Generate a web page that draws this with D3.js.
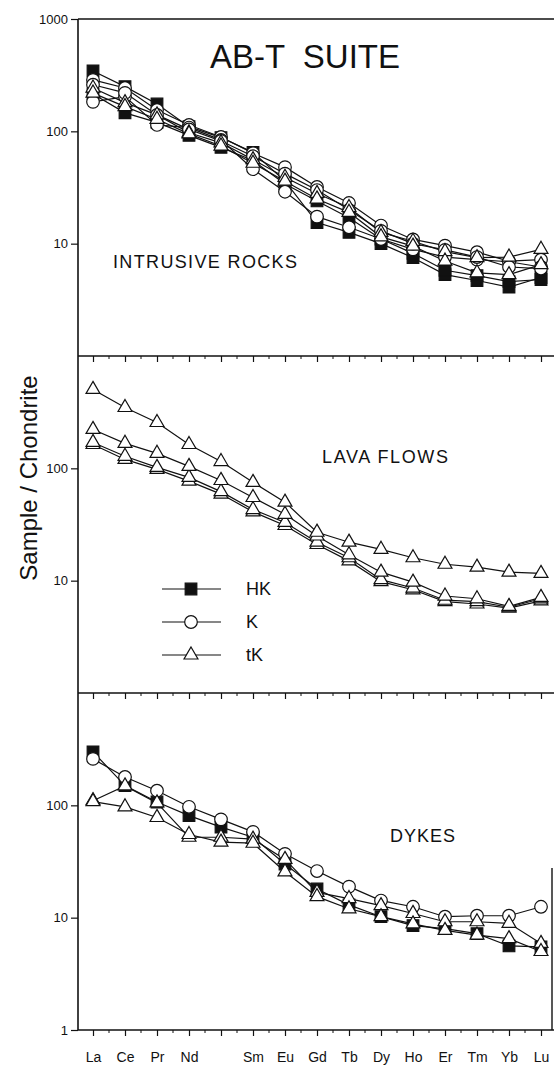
<!DOCTYPE html>
<html>
<head>
<meta charset="utf-8">
<script src="https://cdn.jsdelivr.net/npm/d3@7"></script>
<style>
  html, body { margin: 0; padding: 0; background: #fff; }
  svg { display: block; }
  text { font-family: "Liberation Sans", Arial, Helvetica, sans-serif; fill: #111; }
</style>
</head>
<body>
<svg id="chart" width="554" height="1068"></svg>
<script>
// Rare earth elements along the x axis (Pm is plotted but not labelled)
const elements = ["La","Ce","Pr","Nd","Pm","Sm","Eu","Gd","Tb","Dy","Ho","Er","Tm","Yb","Lu"];
const elementLabels = ["La","Ce","Pr","Nd","","Sm","Eu","Gd","Tb","Dy","Ho","Er","Tm","Yb","Lu"];

// Intrusive rocks (sample / chondrite)
const intrusiveHK1 = [345, 250, 175, 110, 88, 65, 36, 15.4, 12.6, 10, 7.5, 5.3, 4.7, 4.1, 5.0];
const intrusiveHK2 = [215, 146, 120, 92, 72, 55, 34, 24, 17, 11, 8.2, 5.8, 5.2, 4.6, 4.8];
const intrusiveK1  = [287, 243, 155, 114, 89, 64, 48, 32, 23, 14.5, 10.9, 9.6, 8.4, 7.0, 7.2];
const intrusiveK2  = [183, 204, 114, 108, 84, 46, 29, 17.4, 14, 11, 8.9, 7.6, 7.2, 6.9, 6.2];
const intrusiveK3  = [260, 220, 140, 104, 82, 60, 42, 30, 20, 13, 10, 8.8, 7.6, 6.2, 6.0];
const intrusiveTK1 = [243, 180, 140, 97, 79, 56, 39, 28, 21, 12.6, 10.5, 8.5, 7.5, 7.6, 8.9];
const intrusiveTK2 = [219, 166, 128, 95, 74, 52, 36, 25, 19, 11.5, 9.5, 7.0, 5.5, 5.3, 6.5];

// Lava flows
const lavaTK1 = [504, 348, 256, 163, 115, 75, 50, 27, 22, 19, 16, 14, 13.2, 11.9, 11.6];
const lavaTK2 = [222, 167, 136, 104, 78, 55, 39, 25, 17, 11.9, 9.7, 7.3, 6.9, 5.9, 7.1];
const lavaTK3 = [170, 128, 102, 83, 62, 43, 33, 22, 16, 10.2, 8.6, 6.7, 6.5, 5.8, 6.9];
const lavaTK4 = [163, 120, 98, 77, 59, 41, 31, 21, 15, 9.8, 8.3, 6.5, 6.2, 5.7, 6.6];

// Dykes
const dykeHK  = [299, 150, 107, 81, 64, 52, 30, 18, 13, 10.2, 8.5, 8.0, 7.2, 5.6, 5.5];
const dykeK   = [259, 179, 135, 97, 75, 58, 37, 26, 18.9, 14.2, 12.5, 10.2, 10.4, 10.4, 12.5];
const dykeTK1 = [110, 149, 105, 52, 52, 50, 33, 16.8, 14.8, 12.8, 10.9, 9.2, 9.2, 8.9, 5.9];
const dykeTK2 = [108, 97, 78, 55, 47, 46, 25.6, 15.4, 12, 10.2, 8.8, 7.7, 7.0, 6.5, 5.0];

// Y tick values shown in each panel
const intrusiveTicks = [10, 100, 1000];
const lavaTicks = [10, 100];
const dykeTicks = [1, 10, 100];

const seriesTypes = ["HK", "K", "tK"];

const panels = [
  { name: "INTRUSIVE ROCKS", ticks: intrusiveTicks, series: [
      { type: "HK", values: intrusiveHK1 }, { type: "HK", values: intrusiveHK2 },
      { type: "K", values: intrusiveK1 }, { type: "K", values: intrusiveK2 }, { type: "K", values: intrusiveK3 },
      { type: "tK", values: intrusiveTK1 }, { type: "tK", values: intrusiveTK2 } ] },
  { name: "LAVA FLOWS", ticks: lavaTicks, series: [
      { type: "tK", values: lavaTK4 }, { type: "tK", values: lavaTK3 },
      { type: "tK", values: lavaTK2 }, { type: "tK", values: lavaTK1 } ] },
  { name: "DYKES", ticks: dykeTicks, series: [
      { type: "HK", values: dykeHK }, { type: "K", values: dykeK },
      { type: "tK", values: dykeTK1 }, { type: "tK", values: dykeTK2 } ] }
];

const svg = d3.select("#chart");
const axisX = 78, rightEdge = 554, plotTop = 19, panelH = 337;
const x = d3.scalePoint().domain(elements).range([93, 541]);

const symbolPath = {
  HK: d3.symbol(d3.symbolSquare, 135)(),
  K:  d3.symbol(d3.symbolCircle, 125)(),
  tK: d3.symbol(d3.symbolTriangle, 84)()
};

function drawMarker(g, type, cx, cy) {
  g.append("path")
    .attr("d", symbolPath[type])
    .attr("transform", `translate(${cx},${cy})`)
    .attr("fill", type === "HK" ? "#111" : "#fff")
    .attr("stroke", "#111")
    .attr("stroke-width", 1.2);
}

panels.forEach((p, i) => {
  const top = plotTop + i * panelH, bottom = top + panelH;
  const y = d3.scaleLog().domain([1, 1000]).range([bottom, top]);
  const g = svg.append("g");

  // left axis
  const yAxis = g.append("g").attr("transform", `translate(${axisX},0)`)
    .call(d3.axisLeft(y).tickValues(p.ticks).tickFormat(d3.format("d")).tickSize(7).tickPadding(3));
  yAxis.select(".domain").remove();
  yAxis.selectAll("line").attr("stroke", "#111").attr("stroke-width", 1.2);
  yAxis.selectAll("text").style("font-size", "13px").attr("fill", "#111");
  g.append("line").attr("x1", axisX).attr("x2", axisX).attr("y1", top).attr("y2", bottom)
    .attr("stroke", "#111").attr("stroke-width", 1.6);

  // bottom axis of the panel with major and minor ticks
  const xAxis = g.append("g").attr("transform", `translate(0,${bottom})`)
    .call(d3.axisBottom(x).tickSize(6).tickPadding(16)
      .tickFormat((d, k) => i === panels.length - 1 ? elementLabels[k] : ""));
  xAxis.select(".domain").remove();
  xAxis.selectAll("line").attr("stroke", "#111").attr("stroke-width", 1.2);
  xAxis.selectAll("text").style("font-size", "14px").attr("fill", "#111");
  const step = x.step();
  g.selectAll(null).data(elements.slice(0, -1)).enter().append("line")
    .attr("x1", d => x(d) + step / 2).attr("x2", d => x(d) + step / 2)
    .attr("y1", bottom).attr("y2", bottom + 3)
    .attr("stroke", "#111").attr("stroke-width", 1);
  g.append("line").attr("x1", axisX).attr("x2", rightEdge).attr("y1", bottom).attr("y2", bottom)
    .attr("stroke", "#111").attr("stroke-width", 1.6);

  if (i === 0) {
    g.append("line").attr("x1", axisX).attr("x2", rightEdge).attr("y1", top).attr("y2", top)
      .attr("stroke", "#111").attr("stroke-width", 1.6);
  }
  if (i === panels.length - 1) {
    g.append("line").attr("x1", 552).attr("x2", 552).attr("y1", top + 175).attr("y2", bottom)
      .attr("stroke", "#111").attr("stroke-width", 1.4);
  }

  // series lines then markers
  const line = d3.line().x((d, k) => x(elements[k])).y(d => y(d));
  p.series.forEach(s => {
    g.append("path").datum(s.values).attr("d", line)
      .attr("fill", "none").attr("stroke", "#111").attr("stroke-width", 1.2);
  });
  p.series.forEach(s => {
    s.values.forEach((v, k) => drawMarker(g, s.type, x(elements[k]), y(v)));
  });
});

// Panel captions
svg.append("text").attr("x", 113).attr("y", 268).style("font-size", "18px")
  .attr("textLength", 184).attr("lengthAdjust", "spacing").text("INTRUSIVE ROCKS");
svg.append("text").attr("x", 322).attr("y", 463).style("font-size", "18px")
  .attr("textLength", 126).attr("lengthAdjust", "spacing").text("LAVA FLOWS");
svg.append("text").attr("x", 390).attr("y", 842).style("font-size", "18px")
  .attr("textLength", 65).attr("lengthAdjust", "spacing").text("DYKES");

// Title
svg.append("text").attr("x", 305).attr("y", 68).attr("text-anchor", "middle")
  .style("font-size", "33px").style("white-space", "pre").text("AB-T  SUITE");

// Y axis title
svg.append("text").attr("transform", "translate(37,478) rotate(-90)").attr("text-anchor", "middle")
  .style("font-size", "24px").text("Sample / Chondrite");

// Legend
const legend = svg.append("g");
seriesTypes.forEach((t, k) => {
  const ly = 589 + k * 33;
  legend.append("line").attr("x1", 162).attr("x2", 221).attr("y1", ly).attr("y2", ly)
    .attr("stroke", "#111").attr("stroke-width", 1.2);
  drawMarker(legend, t, 191, ly);
  legend.append("text").attr("x", 246).attr("y", ly + 6).style("font-size", "18px").text(t);
});
</script>
</body>
</html>
